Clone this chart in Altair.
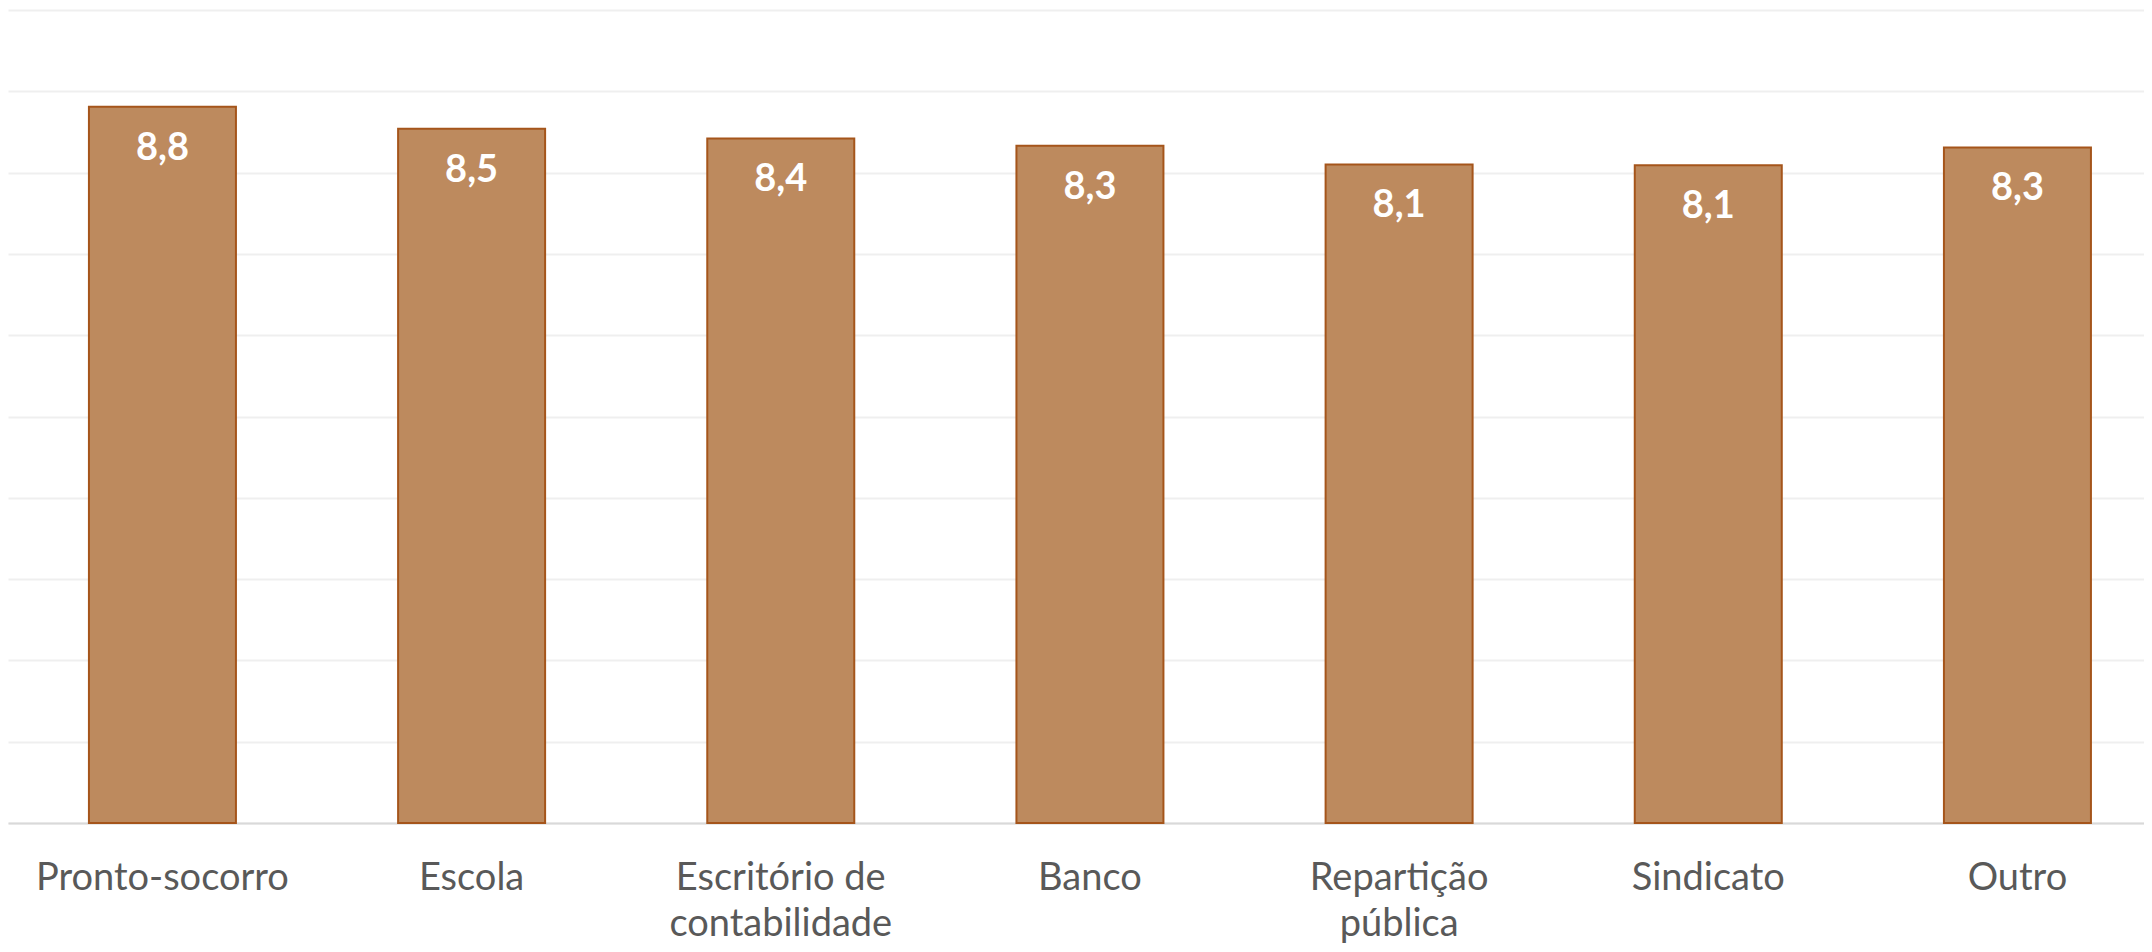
import json
import altair as alt
import pandas as pd

categories = [
    "Pronto-socorro",
    "Escola",
    "Escritório de contabilidade",
    "Banco",
    "Repartição pública",
    "Sindicato",
    "Outro",
]
values = [8.81, 8.54, 8.42, 8.33, 8.10, 8.09, 8.31]
value_labels = [f"{v:.1f}".replace(".", ",") for v in values]
grid_values = list(range(0, 11))

wrapped = {
    "Escritório de contabilidade": ["Escritório de", "contabilidade"],
    "Repartição pública": ["Repartição", "pública"],
}
label_expr = " : ".join(
    f"datum.label == '{k}' ? {json.dumps(v, ensure_ascii=False)}" for k, v in wrapped.items()
) + " : datum.label"

df = pd.DataFrame({"cat": categories, "value": values, "label": value_labels})

x_enc = alt.X(
    "cat:N",
    sort=categories,
    scale=alt.Scale(paddingInner=0.5245, paddingOuter=0.2167, align=0.604),
    axis=alt.Axis(
        title=None,
        labelExpr=label_expr,
        labelAngle=0,
        labelFont="Lato",
        labelFontSize=38,
        labelColor="#595959",
        labelPadding=36,
        labelLineHeight=46,
        labelBaseline="top",
        labelLimit=0,
        labelOverlap=False,
        ticks=False,
        tickSize=0,
        domainColor="#D9D9D9",
        domainWidth=2,
        grid=False,
    ),
)
y_enc = alt.Y(
    "value:Q",
    scale=alt.Scale(domain=[0, 10], nice=False),
    axis=alt.Axis(
        title=None,
        labels=False,
        ticks=False,
        domain=False,
        values=grid_values,
        gridColor="#EFEFEF",
        gridWidth=2,
    ),
)

base = alt.Chart(df).encode(x=x_enc, y=y_enc)

bars = base.mark_bar(color="#BD8A5E", stroke="#A5551B", strokeWidth=2)
texts = base.mark_text(
    color="white",
    font="Lato",
    fontWeight="bold",
    fontSize=38,
    baseline="alphabetic",
    align="center",
    dy=53,
).encode(text="label:N")

chart = (
    alt.layer(bars, texts)
    .properties(
        width=2136,
        height=813,
        padding={"top": 2, "left": 0, "right": 0, "bottom": 121},
        autosize=alt.AutoSizeParams(type="none"),
        background="white",
    )
    .configure_view(stroke=None)
)

chart.save("out.html", embed_options={"renderer": "svg", "actions": False})
